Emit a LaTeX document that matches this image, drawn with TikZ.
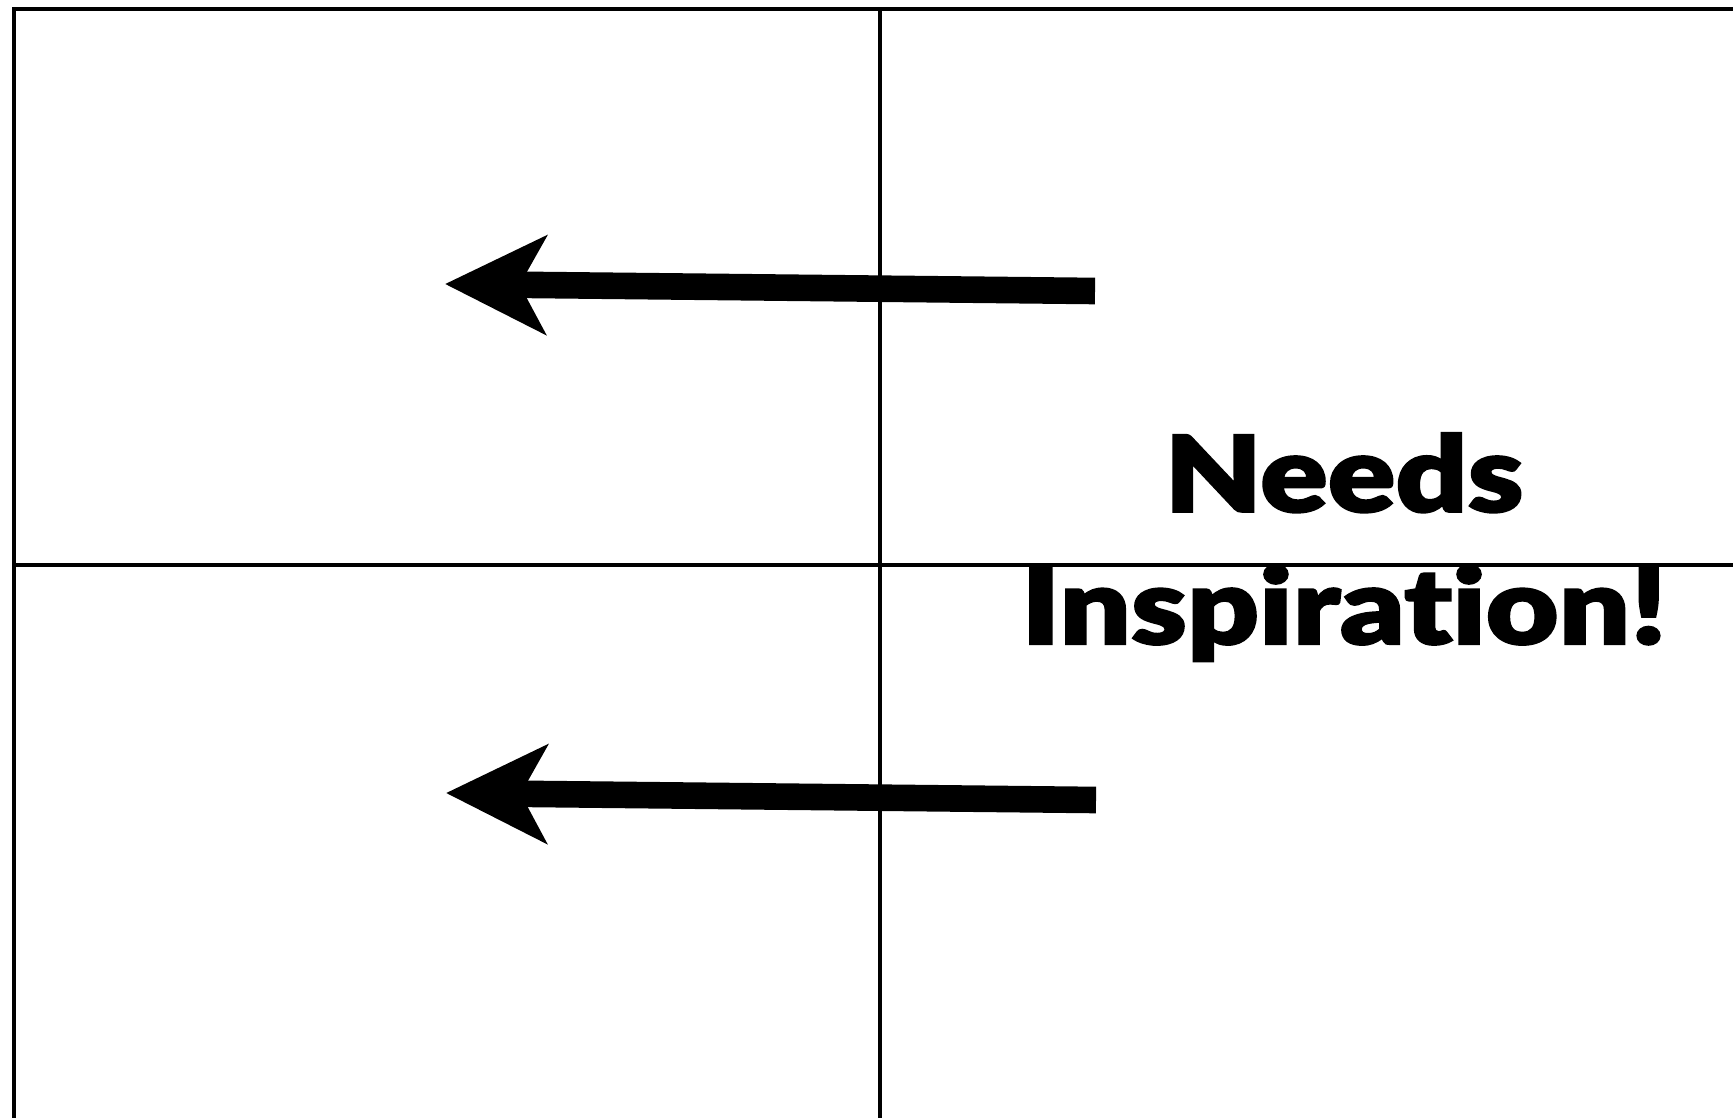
\documentclass[tikz,border=0pt]{standalone}
\usepackage{fontspec}
\usepackage{tikz}
\usetikzlibrary{positioning,arrows.meta}
\newfontfamily\headfont{Lato}[UprightFont=* Black, FakeStretch=1.19, FakeBold=2, Ligatures=NoCommon]

\begin{document}
\begin{tikzpicture}[
    x=0.01cm, y=-0.01cm,
    gridline/.style={
        line width=1.28pt,
        draw=black
    },
    bigarrow/.style={
        -{Stealth[length=28.6pt,width=27.8pt,inset=7.4pt]},
        line width=7.57pt,
        draw=black
    },
    headline/.style={
        font=\headfont\fontsize{30pt}{37.6pt}\selectfont,
        align=center,
        inner sep=0pt
    }
]

\useasboundingbox (0,0) rectangle (1733,1118);

% =========================
% grid
% =========================
\draw[gridline] (12,9) -- (1733,9);
\draw[gridline] (14,7) -- (14,1118);
\draw[gridline] (880,9) -- (880,1118);
\draw[gridline] (14,565) -- (1733,565);

% =========================
% arrows
% =========================
\coordinate (toptail) at (1095,291);
\coordinate (toptip) at (445,284);
\coordinate (bottail) at (1096,800);
\coordinate (bottip) at (446,793);

\draw[bigarrow] (toptail) -- (toptip);
\draw[bigarrow] (bottail) -- (bottip);

% =========================
% label
% =========================
\node[headline, anchor=base] (inspire) at (1344,644) {Needs\\Inspiration!};

\end{tikzpicture}
\end{document}
